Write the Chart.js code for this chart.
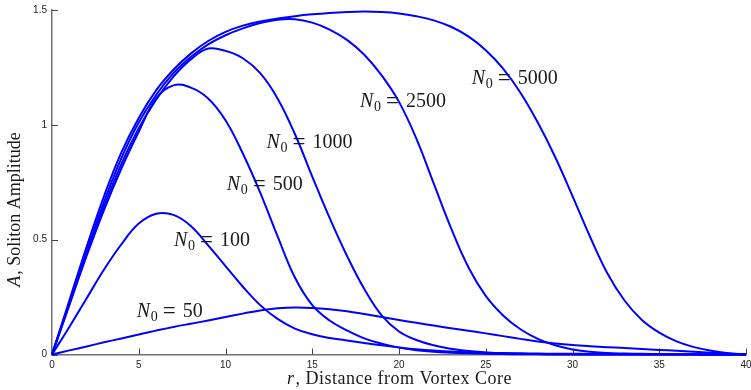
<!DOCTYPE html>
<html>
<head>
<meta charset="utf-8">
<script src="https://cdn.jsdelivr.net/npm/chart.js@4.4.0/dist/chart.umd.min.js"></script>
<style>
html, body { margin: 0; padding: 0; background: #fff; }
</style>
</head>
<body>
<canvas id="myChart" width="751" height="390"></canvas>
<script>
// radial positions (shared by all curves)
var r = [0,1,2,3,4,5,6,7,8,9,10,11,12,13,14,15,16,17,18,19,20,
         21,22,23,24,25,26,27,28,29,30,31,32,33,34,35,36,37,38,39,40];

// soliton amplitude for each N0
var n5000 = [0,0.235,0.47,0.69,0.88,1.03,1.15,1.24,1.31,1.365,1.405,
             1.432,1.45,1.463,1.473,1.481,1.487,1.491,1.493,1.491,1.485,
             1.473,1.455,1.427,1.385,1.325,1.245,1.14,1.01,0.86,0.69,
             0.515,0.355,0.235,0.15,0.095,0.057,0.032,0.016,0.006,0];
var n2500 = [0,0.225,0.45,0.665,0.855,1.01,1.13,1.225,1.295,1.35,1.39,
             1.42,1.443,1.458,1.46,1.445,1.415,1.37,1.305,1.215,1.1,
             0.94,0.745,0.55,0.38,0.255,0.17,0.11,0.068,0.04,0.022,
             0.012,0.006,0.004,0.003,0.002,0.001,0.001,0,0,0];
var n1000 = [0,0.22,0.44,0.645,0.83,0.985,1.11,1.21,1.285,1.332,1.322,
             1.29,1.225,1.115,0.96,0.775,0.595,0.43,0.285,0.17,0.1,
             0.063,0.04,0.025,0.015,0.009,0.005,0.003,0.002,0.001,0.001,
             0,0,0,0,0,0,0,0,0,0];
var n500 = [0,0.215,0.43,0.63,0.81,0.97,1.115,1.172,1.162,1.115,1.02,
            0.875,0.705,0.515,0.335,0.215,0.148,0.105,0.07,0.047,0.03,
            0.019,0.012,0.008,0.005,0.003,0.002,0.001,0.001,0,0,
            0,0,0,0,0,0,0,0,0,0];
var n100 = [0,0.12,0.245,0.37,0.48,0.57,0.613,0.608,0.56,0.475,0.385,
            0.295,0.215,0.155,0.113,0.088,0.072,0.061,0.05,0.04,0.031,
            0.023,0.017,0.013,0.01,0.008,0.006,0.005,0.004,0.0035,0.003,
            0.0025,0.002,0.002,0.0015,0.001,0.001,0.001,0,0,0];
var n50 = [0,0.018,0.035,0.053,0.07,0.087,0.104,0.12,0.134,0.148,0.163,
           0.178,0.192,0.201,0.205,0.203,0.197,0.188,0.176,0.163,0.15,
           0.138,0.126,0.114,0.103,0.092,0.08,0.068,0.057,0.048,0.041,
           0.036,0.032,0.028,0.024,0.02,0.016,0.012,0.008,0.004,0];

var seriesNames = ['5000','2500','1000','500','100','50'];
var seriesVals = [n5000, n2500, n1000, n500, n100, n50];

var xTicks = [0,5,10,15,20,25,30,35,40];
var yTicks = [0,0.5,1,1.5];

// where each N0 label sits (data coords, left end / baseline)
var labelAt = [
  {name:'5000', x:24.2,  y:1.176},
  {name:'2500', x:17.75, y:1.077},
  {name:'1000', x:12.37, y:0.897},
  {name:'500',  x:10.07, y:0.718},
  {name:'100',  x:7.03,  y:0.472},
  {name:'50',   x:4.88,  y:0.164}
];

var serif = '"Liberation Serif", "Times New Roman", serif';

function drawN(ctx, x, y, num) {
  ctx.fillStyle = '#1a1a1a';
  ctx.textAlign = 'left';
  ctx.textBaseline = 'alphabetic';
  ctx.font = 'italic 20px ' + serif;
  ctx.fillText('N', x, y);
  ctx.font = '14px ' + serif;
  ctx.fillText('0', x + 14, y + 4);
  ctx.font = '23px ' + serif;
  ctx.fillText('=', x + 26, y + 1);
  ctx.font = '20px ' + serif;
  ctx.fillText(num, x + 46, y);
}

function mixed(ctx, x, y, first, rest, size) {
  ctx.font = 'italic ' + size + 'px ' + serif;
  var w1 = ctx.measureText(first).width;
  ctx.font = size + 'px ' + serif;
  var w2 = ctx.measureText(rest).width;
  var x0 = x - (w1 + w2) / 2;
  ctx.font = 'italic ' + size + 'px ' + serif;
  ctx.fillText(first, x0, y);
  ctx.font = size + 'px ' + serif;
  ctx.fillText(rest, x0 + w1 + 1, y);
}

var decor = {
  id: 'decor',
  beforeDatasetsDraw: function(chart) {
    var ctx = chart.ctx, ca = chart.chartArea;
    var xs = chart.scales.x, ys = chart.scales.y;
    ctx.save();
    ctx.strokeStyle = '#444';
    ctx.lineWidth = 1;
    ctx.beginPath();
    xTicks.forEach(function(v) {
      var px = Math.round(xs.getPixelForValue(v)) + 0.5;
      ctx.moveTo(px, ca.bottom);
      ctx.lineTo(px, ca.bottom - 6);
    });
    yTicks.forEach(function(v) {
      var py = Math.round(ys.getPixelForValue(v)) + 0.5;
      ctx.moveTo(ca.left, py);
      ctx.lineTo(ca.left + 6, py);
    });
    ctx.stroke();
    ctx.restore();
  },
  afterDraw: function(chart) {
    var ctx = chart.ctx, ca = chart.chartArea;
    var xs = chart.scales.x, ys = chart.scales.y;
    ctx.save();
    labelAt.forEach(function(l) {
      drawN(ctx, xs.getPixelForValue(l.x), ys.getPixelForValue(l.y), l.name);
    });

    ctx.fillStyle = '#1a1a1a';
    ctx.textAlign = 'left';
    ctx.textBaseline = 'alphabetic';
    ctx.letterSpacing = '0.5px';
    // x axis title
    mixed(ctx, (ca.left + ca.right) / 2, 384, 'r', ', Distance from Vortex Core', 18);
    // y axis title
    ctx.letterSpacing = '0px';
    ctx.translate(20, 210);
    ctx.rotate(-Math.PI / 2);
    mixed(ctx, 0, 0, 'A', ', Soliton Amplitude', 18);
    ctx.restore();
  }
};

var datasets = seriesNames.map(function(name, i) {
  return {
    label: 'N0 = ' + name,
    data: r.map(function(x, j) { return {x: x, y: seriesVals[i][j]}; }),
    borderColor: '#0000ff',
    borderWidth: 2,
    pointRadius: 0,
    fill: false,
    tension: 0.4,
    clip: 4
  };
});

var tickFont = {family: '"Liberation Sans", Arial, sans-serif', size: 10};

var ctx = document.getElementById('myChart');
var chart = new Chart(ctx, {
  type: 'line',
  data: {datasets: datasets},
  options: {
    responsive: false,
    animation: false,
    devicePixelRatio: 1,
    layout: {padding: {top: 10, right: 5, left: 0, bottom: 0}},
    plugins: {legend: {display: false}, tooltip: {enabled: false}},
    scales: {
      x: {
        type: 'linear', min: 0, max: 40,
        afterBuildTicks: function(s) { s.ticks = xTicks.map(function(v) { return {value: v}; }); },
        afterFit: function(s) { s.height = 35.5; s.paddingLeft = 0; s.paddingRight = 0; },
        grid: {display: false, drawTicks: false},
        border: {display: true, color: '#6e6e6e', width: 1.5},
        ticks: {padding: 5, color: '#222', font: tickFont, maxRotation: 0, autoSkip: false,
                callback: function(v) { return String(v); }}
      },
      y: {
        type: 'linear', min: 0, max: 1.5,
        afterBuildTicks: function(s) { s.ticks = yTicks.map(function(v) { return {value: v}; }); },
        afterFit: function(s) { s.width = 52; s.paddingTop = 0; s.paddingBottom = 0; },
        grid: {display: false, drawTicks: false},
        border: {display: true, color: '#6e6e6e', width: 1.5},
        ticks: {padding: 5, color: '#222', font: tickFont, autoSkip: false,
                callback: function(v) { return String(v); }}
      }
    }
  },
  plugins: [decor]
});
</script>
</body>
</html>
